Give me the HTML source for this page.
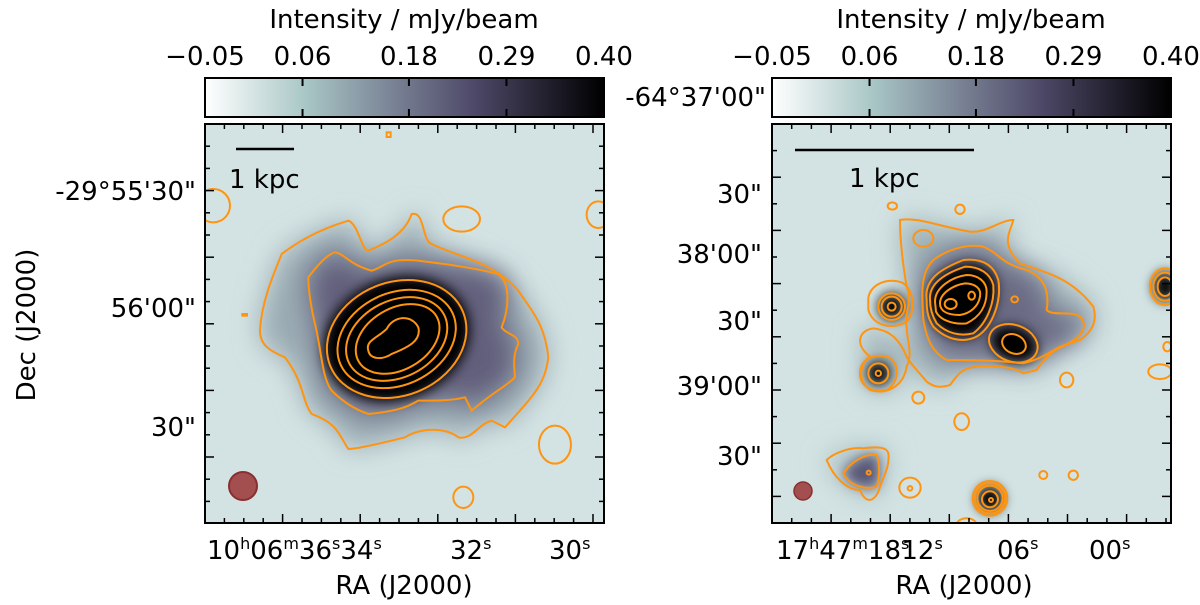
<!DOCTYPE html>
<html><head><meta charset="utf-8"><style>
html,body{margin:0;padding:0;background:#fff;}
svg{display:block;font-family:"DejaVu Sans","Liberation Sans",sans-serif;}
</style></head><body>
<svg id="fig" width="1200" height="605" viewBox="0 0 1200 605" xmlns="http://www.w3.org/2000/svg">
<defs>
<linearGradient id="cmap" x1="0" x2="1" y1="0" y2="0">
<stop offset="0" stop-color="#ffffff"/><stop offset="0.25" stop-color="#a9c7c6"/>
<stop offset="0.5" stop-color="#737a8e"/><stop offset="0.68" stop-color="#4c4766"/>
<stop offset="1" stop-color="#000000"/></linearGradient>
<filter id="bl1" filterUnits="userSpaceOnUse" x="-300" y="-300" width="1800" height="1800"><feGaussianBlur stdDeviation="40"/></filter>
<filter id="bl2" filterUnits="userSpaceOnUse" x="-300" y="-300" width="1800" height="1800"><feGaussianBlur stdDeviation="18"/></filter>
<clipPath id="clipL"><rect x="205" y="124" width="399" height="399"/></clipPath>
<clipPath id="clipR"><rect x="772" y="124" width="399" height="399"/></clipPath>
</defs>

<!-- Left panel -->
<g>
<rect x="205" y="124" width="399" height="399" fill="#d3e3e3"/>
<g clip-path="url(#clipL)">
 <g transform="translate(205,124) scale(0.3333)">
  <path filter="url(#bl1)" fill="#9aaab2" d="M165,620 C170,520 220,420 230,390 C270,360 330,320 430,290 C460,300 470,380 490,380 C540,360 600,330 620,270 C660,260 650,350 680,360 C760,400 860,410 940,500 C980,560 1020,600 1030,700 C1020,780 990,810 900,910 L860,890 C820,900 800,950 760,940 C720,910 650,910 600,940 C520,960 450,975 430,975 C400,930 400,900 320,870 C290,830 300,780 240,700 C190,680 165,660 165,620 Z"/>
  <path filter="url(#bl1)" fill="#625f7b" d="M310,460 C340,420 370,390 390,385 C420,390 430,420 500,440 C540,430 540,400 640,410 C720,420 800,430 880,450 C920,480 910,560 890,610 C900,630 940,630 940,660 C920,700 930,740 930,760 C900,790 870,800 800,860 L780,820 C740,830 700,830 640,830 C620,840 600,860 490,870 C460,860 420,840 380,800 C350,760 350,680 330,600 C320,560 310,500 310,460 Z"/>
  <ellipse filter="url(#bl2)" cx="575" cy="645" rx="225" ry="180" transform="rotate(-22 575 645)" fill="#000"/>
  <g fill="none" stroke="#ff9410" stroke-width="6">
   <path d="M165,620 C170,520 220,420 230,390 C270,360 330,320 430,290 C460,300 470,380 490,380 C540,360 600,330 620,270 C660,260 650,350 680,360 C760,400 860,410 940,500 C980,560 1020,600 1030,700 C1020,780 990,810 900,910 L860,890 C820,900 800,950 760,940 C720,910 650,910 600,940 C520,960 450,975 430,975 C400,930 400,900 320,870 C290,830 300,780 240,700 C190,680 165,660 165,620 Z"/>
   <path d="M310,460 C340,420 370,390 390,385 C420,390 430,420 500,440 C540,430 540,400 640,410 C720,420 800,430 880,450 C920,480 910,560 890,610 C900,630 940,630 940,660 C920,700 930,740 930,760 C900,790 870,800 800,860 L780,820 C740,830 700,830 640,830 C620,840 600,860 490,870 C460,860 420,840 380,800 C350,760 350,680 330,600 C320,560 310,500 310,460 Z"/>
   <ellipse cx="575" cy="645" rx="215" ry="170" transform="rotate(-22 575 645)"/>
   <ellipse cx="575" cy="645" rx="185" ry="138" transform="rotate(-25 575 645)"/>
   <ellipse cx="575" cy="645" rx="160" ry="115" transform="rotate(-27 575 645)"/>
   <ellipse cx="578" cy="645" rx="135" ry="92" transform="rotate(-30 578 645)"/>
   <path d="M490,680 C480,650 520,640 545,615 C565,575 620,570 640,610 C650,650 610,670 560,690 C530,710 495,705 490,680 Z"/>
   <ellipse cx="770" cy="285" rx="55" ry="38"/>
   <ellipse cx="1180" cy="272" rx="35" ry="40"/>
   <ellipse cx="25" cy="245" rx="50" ry="50"/>
   <ellipse cx="1050" cy="962" rx="48" ry="57"/>
   <ellipse cx="775" cy="1120" rx="30" ry="32"/>
   <rect x="545" y="25" width="12" height="14"/>
   <rect x="112" y="570" width="14" height="5"/>
  </g>
 </g>
 <circle cx="243" cy="486" r="14" fill="#a34f4f" stroke="#8a2f2f" stroke-width="2"/>
</g>
<line x1="236" y1="149" x2="294" y2="149" stroke="#000" stroke-width="2.5"/>
<text x="229" y="188" font-size="26">1 kpc</text>
<rect x="205" y="124" width="399" height="399" fill="none" stroke="#000" stroke-width="2"/>
<g id="ticksL"></g>
</g>

<!-- Right panel -->
<g>
<rect x="772" y="124" width="399" height="399" fill="#d3e3e3"/>
<g clip-path="url(#clipR)">
 <g transform="translate(760,200) scale(0.3333)">
  <path filter="url(#bl1)" fill="#a0b2b8" d="M420,60 C470,50 540,80 630,95 C680,100 720,60 760,60 C750,100 720,130 780,190 C860,220 930,230 1000,320 C1015,370 990,400 960,420 C900,440 870,450 830,510 L790,520 C760,500 700,495 650,500 C600,505 590,530 570,555 C540,565 520,560 500,545 C480,520 450,490 440,470 C420,420 390,390 340,385 C300,390 280,430 330,470 C300,490 290,540 330,570 C380,585 430,560 440,500 C460,460 440,420 440,380 C430,340 460,310 440,260 C430,200 420,120 420,60 Z"/>
  <path filter="url(#bl1)" fill="#6a6a84" d="M520,180 C560,150 620,130 670,140 C720,160 720,190 800,210 C850,230 870,270 860,330 C880,350 930,330 960,350 C990,380 960,420 900,440 C850,470 830,480 790,490 C700,480 620,480 560,480 C520,460 500,420 490,360 C485,280 480,220 520,180 Z"/>
  <path filter="url(#bl2)" fill="#000" d="M505,300 C495,235 565,205 612,190 C660,185 695,205 708,248 C715,305 690,375 645,405 C605,420 560,410 525,375 C505,350 505,320 505,300 Z"/>
  <ellipse filter="url(#bl2)" cx="762" cy="432" rx="72" ry="52" transform="rotate(20 762 432)" fill="#000"/>
  <circle filter="url(#bl2)" cx="395" cy="320" r="40" fill="#000"/>
  <circle filter="url(#bl2)" cx="355" cy="520" r="35" fill="#000"/>
  <circle filter="url(#bl2)" cx="690" cy="897" r="40" fill="#000"/>
  <ellipse filter="url(#bl2)" cx="1215" cy="260" rx="35" ry="45" fill="#000"/>
  <path filter="url(#bl1)" fill="#a8bcc0" d="M200,780 C220,760 270,740 310,745 C350,740 380,740 385,760 C390,800 370,830 360,860 C350,900 320,920 300,870 C260,870 220,830 200,780 Z"/>
  <path filter="url(#bl2)" fill="#5a5878" d="M250,820 C270,790 310,760 350,765 C360,790 360,830 350,860 C320,870 270,860 250,820 Z"/>
  <g fill="none" stroke="#ff9410" stroke-width="6">
   <path d="M420,60 C470,50 540,80 630,95 C680,100 720,60 760,60 C750,100 720,130 780,190 C860,220 930,230 1000,320 C1015,370 990,400 960,420 C900,440 870,450 830,510 L790,520 C760,500 700,495 650,500 C600,505 590,530 570,555 C540,565 520,560 500,545 C480,520 450,490 440,470 C420,420 390,390 340,385 C300,390 280,430 330,470 C300,490 290,540 330,570 C380,585 430,560 440,500 C460,460 440,420 440,380 C430,340 460,310 440,260 C430,200 420,120 420,60 Z"/>
   <path d="M520,180 C560,150 620,130 670,140 C720,160 720,190 800,210 C850,230 870,270 860,330 C880,350 930,330 960,350 C990,380 960,420 900,440 C850,470 830,480 790,490 C700,480 620,480 560,480 C520,460 500,420 490,360 C485,280 480,220 520,180 Z"/>
   <path d="M500,300 C490,230 560,200 610,180 C660,175 700,190 715,240 C725,300 700,380 650,410 C610,430 560,420 520,380 C500,350 500,320 500,300 Z"/>
   <path d="M510,300 C505,245 570,215 615,200 C660,200 690,220 700,255 C705,310 680,370 640,400 C600,410 560,400 530,370 C515,345 510,320 510,300 Z"/>
   <path d="M525,305 C525,260 580,230 620,225 C655,225 680,245 680,275 C680,320 660,350 620,370 C580,375 540,360 528,335 Z"/>
   <path d="M540,310 C540,280 580,255 615,250 C645,250 665,265 660,290 C655,320 630,340 600,345 C565,345 540,335 540,310 Z"/>
   <ellipse cx="572" cy="312" rx="18" ry="15"/><ellipse cx="635" cy="287" rx="10" ry="12"/>
   <ellipse cx="760" cy="430" rx="75" ry="55" transform="rotate(20 760 430)"/>
   <ellipse cx="762" cy="432" rx="37" ry="28" transform="rotate(25 762 432)"/>
   <ellipse cx="490" cy="115" rx="30" ry="25"/>
   <ellipse cx="764" cy="298" rx="10" ry="9"/>
   <path d="M325,295 C330,250 390,230 430,250 C460,270 470,330 440,365 C400,390 340,380 325,330 Z"/>
   <circle cx="395" cy="320" r="40"/><circle cx="395" cy="320" r="30"/><circle cx="395" cy="320" r="12"/>
   <path d="M300,520 C300,480 340,460 380,470 C420,480 420,550 380,570 C340,580 300,560 300,520 Z"/>
   <circle cx="355" cy="520" r="30"/><circle cx="355" cy="520" r="8"/>
   <circle cx="690" cy="895" r="52"/><circle cx="690" cy="895" r="45"/><circle cx="690" cy="895" r="38"/><circle cx="690" cy="898" r="24"/><circle cx="693" cy="900" r="6"/>
   <path d="M200,780 C220,760 270,740 310,745 C350,740 380,740 385,760 C390,800 370,830 360,860 C350,900 320,920 300,870 C260,870 220,830 200,780 Z"/>
   <path d="M250,820 C270,790 310,760 350,765 C360,790 360,830 350,860 C320,870 270,860 250,820 Z"/>
   <circle cx="326" cy="818" r="6"/>
   <ellipse cx="450" cy="863" rx="32" ry="30"/><circle cx="450" cy="865" r="7"/>
   <ellipse cx="1215" cy="260" rx="45" ry="55"/><ellipse cx="1215" cy="260" rx="35" ry="42"/><ellipse cx="1215" cy="260" rx="22" ry="28"/>
   <ellipse cx="397" cy="18" rx="14" ry="11"/><ellipse cx="600" cy="28" rx="14" ry="14"/>
   <ellipse cx="920" cy="540" rx="20" ry="22"/><ellipse cx="475" cy="593" rx="18" ry="18"/>
   <ellipse cx="605" cy="665" rx="22" ry="25"/><ellipse cx="850" cy="825" rx="12" ry="12"/><ellipse cx="940" cy="826" rx="14" ry="14"/>
   <ellipse cx="1200" cy="515" rx="35" ry="22"/><ellipse cx="1222" cy="440" rx="12" ry="14"/>
   <ellipse cx="620" cy="975" rx="30" ry="20"/>
  </g>
 </g>
 <circle cx="803" cy="491" r="9" fill="#a34f4f" stroke="#8a2f2f" stroke-width="1.5"/>
</g>
<line x1="795" y1="150" x2="974" y2="150" stroke="#000" stroke-width="2.5"/>
<text x="849" y="187" font-size="26">1 kpc</text>
<rect x="772" y="124" width="399" height="399" fill="none" stroke="#000" stroke-width="2"/>
<g id="ticksR"></g>
</g>

<!-- Colorbars -->
<g>
<rect x="205" y="78" width="399" height="39" fill="url(#cmap)" stroke="#000" stroke-width="2"/>
<text x="404" y="28" font-size="26" text-anchor="middle">Intensity / mJy/beam</text>
<g id="cbL"></g></g>
<g>
<rect x="772" y="78" width="399" height="39" fill="url(#cmap)" stroke="#000" stroke-width="2"/>
<text x="971" y="28" font-size="26" text-anchor="middle">Intensity / mJy/beam</text>
<g id="cbR"></g></g>

<!-- Axis labels -->
<text x="0" y="0" font-size="26" text-anchor="middle" transform="translate(35,325) rotate(-90)">Dec (J2000)</text>
<text x="404" y="594" font-size="26" text-anchor="middle">RA (J2000)</text>
<text x="964" y="594" font-size="26" text-anchor="middle">RA (J2000)</text>
<g font-size="26" text-anchor="end">
 <text x="196" y="200">-29°55'30"</text>
 <text x="196" y="317">56'00"</text>
 <text x="196" y="436">30"</text>
 <text x="766" y="106">-64°37'00"</text>
 <text x="762" y="203">30"</text>
 <text x="762" y="263">38'00"</text>
 <text x="762" y="330">30"</text>
 <text x="762" y="395">39'00"</text>
 <text x="762" y="465">30"</text>
</g>
<g font-size="26">
 <text x="207" y="559">10<tspan font-size="16" dy="-10">h</tspan><tspan dy="10">06</tspan><tspan font-size="16" dy="-10">m</tspan><tspan dy="10">36</tspan><tspan font-size="16" dy="-10">s</tspan><tspan dy="10">34</tspan><tspan font-size="16" dy="-10">s</tspan></text>
 <text x="450" y="559">32<tspan font-size="16" dy="-10">s</tspan></text>
 <text x="549" y="559">30<tspan font-size="16" dy="-10">s</tspan></text>
 <text x="776" y="559">17<tspan font-size="16" dy="-10">h</tspan><tspan dy="10">47</tspan><tspan font-size="16" dy="-10">m</tspan><tspan dy="10">18</tspan><tspan font-size="16" dy="-10">s</tspan><tspan dy="10" dx="-8">12</tspan><tspan font-size="16" dy="-10">s</tspan></text>
 <text x="997" y="559">06<tspan font-size="16" dy="-10">s</tspan></text>
 <text x="1089" y="559">00<tspan font-size="16" dy="-10">s</tspan></text>
</g>
</svg>
<script>
const cbTickValues = [-0.05, 0.06, 0.18, 0.29, 0.40];
const cbTickLabels = ["\u22120.05", "0.06", "0.18", "0.29", "0.40"];
const cbMin = -0.05, cbMax = 0.40;
const NS = "http://www.w3.org/2000/svg";
function mk(tag, attrs, parent){const e=document.createElementNS(NS,tag);for(const k in attrs)e.setAttribute(k,attrs[k]);parent.appendChild(e);return e;}
function drawCb(id, x0){
  const g=document.getElementById(id);
  const sx=v=>x0+(v-cbMin)/(cbMax-cbMin)*399;
  cbTickValues.forEach((v,i)=>{
    const x=sx(v);
    if(i>0&&i<cbTickValues.length-1){
      const l1=mk('line',{x1:x,x2:x,y1:78,y2:86,stroke:'#000','stroke-width':2},g);
      
      
      mk('line',{x1:x,x2:x,y1:109,y2:117,stroke:'#000','stroke-width':2},g);
    }
    const t=mk('text',{x:x,y:65,'font-size':26,'text-anchor':'middle'},g);
    
    
    t.textContent=cbTickLabels[i];
  });
}
drawCb('cbL',205); drawCb('cbR',772);
function drawTicks(id,x0,y0,dx,dy,majX,majY){
  const g=document.getElementById(id);
  for(let i=1;x0+i*dx<x0+399;i++){const x=x0+i*dx;const L=(i%majX===0)?9:5;
    mk('line',{x1:x,x2:x,y1:y0,y2:y0+L,stroke:'#000','stroke-width':1.5},g);
    mk('line',{x1:x,x2:x,y1:y0+399,y2:y0+399-L,stroke:'#000','stroke-width':1.5},g);}
  for(let i=1;y0+i*dy<y0+399;i++){const y=y0+i*dy;const L=(i%majY===0)?9:5;
    mk('line',{x1:x0,x2:x0+L,y1:y,y2:y,stroke:'#000','stroke-width':1.5},g);
    mk('line',{x1:x0+399,x2:x0+399-L,y1:y,y2:y,stroke:'#000','stroke-width':1.5},g);}
}
drawTicks('ticksL',205,124,19.4,22.2,4,3);
drawTicks('ticksR',772,124,19.7,26.6,3,2);
</script>
</body></html>
